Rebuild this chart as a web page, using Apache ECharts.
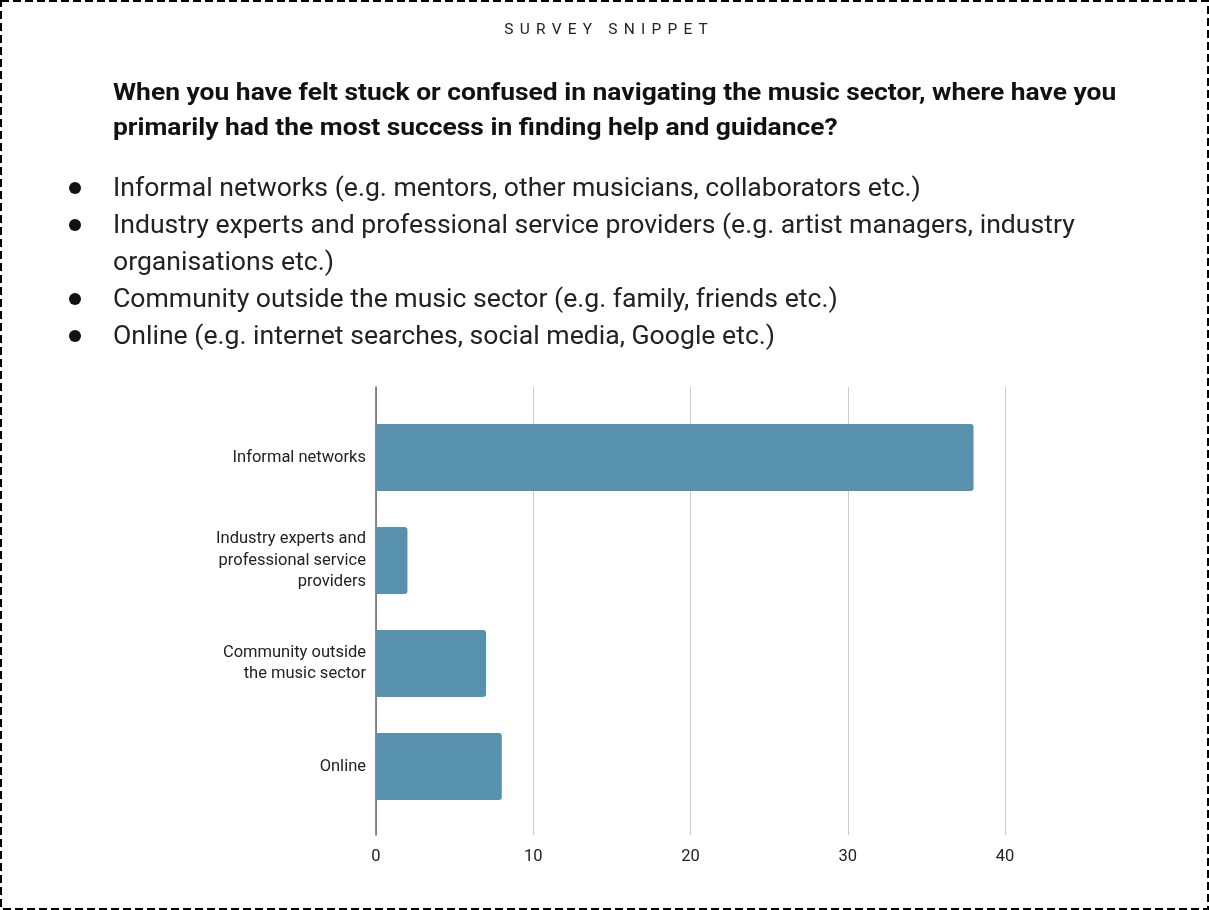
<!DOCTYPE html>
<html>
<head>
<meta charset="utf-8">
<title>Survey snippet</title>
<script src="https://cdn.jsdelivr.net/npm/echarts@6/dist/echarts.min.js"></script>
<style>
  html, body { margin: 0; padding: 0; background: #fff; }
  #chart { width: 1209px; height: 910px; }
</style>
</head>
<body>
<div id="chart"></div>
<script>
// Survey responses: where respondents found help and guidance
const categories = [
  'Informal networks',
  'Industry experts and professional service providers',
  'Community outside the music sector',
  'Online'
];
const categoryLabels = [
  'Informal networks',
  'Industry experts and\nprofessional service\nproviders',
  'Community outside\nthe music sector',
  'Online'
];
const responses = [38, 2, 7, 8];
const xTicks = [0, 10, 20, 30, 40];

const kicker = 'SURVEY SNIPPET';
const questionLines = [
  'When you have felt stuck or confused in navigating the music sector, where have you',
  'primarily had the most success in finding help and guidance?'
];
const optionLines = [
  { text: 'Informal networks (e.g. mentors, other musicians, collaborators etc.)', bullet: true },
  { text: 'Industry experts and professional service providers (e.g. artist managers, industry', bullet: true },
  { text: 'organisations etc.)', bullet: false },
  { text: 'Community outside the music sector (e.g. family, friends etc.)', bullet: true },
  { text: 'Online (e.g. internet searches, social media, Google etc.)', bullet: true }
];

const FONT = 'Roboto, "Noto Sans", sans-serif';
const chart = echarts.init(document.getElementById('chart'), null, { renderer: 'canvas' });

// letter-spaced kicker: place each glyph using measured widths
const measureCtx = document.createElement('canvas').getContext('2d');
measureCtx.font = '15.5px Roboto';
const tracking = 6.2;
const glyphs = kicker.split('');
const widths = glyphs.map(g => measureCtx.measureText(g).width);
const totalW = widths.reduce((a, b) => a + b, 0) + tracking * (glyphs.length - 1);
let cursor = 606 - totalW / 2;
const kickerEls = glyphs.map((g, i) => {
  const el = {
    type: 'text', x: cursor, y: 30,
    style: { text: g, font: '15.5px ' + FONT, fill: '#222', textVerticalAlign: 'middle' }
  };
  cursor += widths[i] + tracking;
  return el;
});

const graphics = [
  {
    type: 'rect',
    shape: { x: 1, y: 1, width: 1207, height: 908 },
    style: { fill: 'none', stroke: '#000', lineWidth: 2, lineDash: [8, 4] },
    silent: true
  },
  ...kickerEls,
  ...questionLines.map((t, i) => ({
    type: 'text', x: 113, y: 94 + i * 35, scaleX: 1.1,
    style: { text: t, font: 'bold 24px ' + FONT, fill: '#111', textVerticalAlign: 'middle' }
  })),
  ...optionLines.flatMap((o, i) => {
    const cy = 188 + i * 37;
    const els = [{
      type: 'text', x: 113, y: cy + 2, scaleX: 1.064,
      style: { text: o.text, font: '25px ' + FONT, fill: '#222', textVerticalAlign: 'middle' }
    }];
    if (o.bullet) {
      els.push({ type: 'circle', shape: { cx: 75, cy: cy, r: 6 }, style: { fill: '#111' } });
    }
    return els;
  })
];

chart.setOption({
  animation: false,
  backgroundColor: '#fff',
  graphic: graphics,
  grid: [
    // frame grid: vertical gridlines, baseline and value ticks
    { left: 376, right: 204, top: 387, bottom: 75 },
    // bar grid: category bands
    { left: 376, right: 204, top: 406, bottom: 92 }
  ],
  xAxis: [
    {
      gridIndex: 0, type: 'value', min: xTicks[0], max: xTicks[xTicks.length - 1], interval: 10,
      axisLine: { show: false }, axisTick: { show: false },
      axisLabel: { fontFamily: FONT, fontSize: 16.5, color: '#222', margin: 13 },
      splitLine: { show: true, lineStyle: { color: '#cccccc', width: 1 } }
    },
    {
      gridIndex: 1, type: 'value', min: xTicks[0], max: xTicks[xTicks.length - 1],
      show: false
    }
  ],
  yAxis: [
    {
      gridIndex: 0, type: 'value', min: 0, max: 1,
      axisLine: { show: true, lineStyle: { color: '#666', width: 1.5 } },
      axisTick: { show: false }, axisLabel: { show: false }, splitLine: { show: false }
    },
    {
      gridIndex: 1, type: 'category', inverse: true, data: categories,
      axisLine: { show: false }, axisTick: { show: false }, splitLine: { show: false },
      axisLabel: {
        formatter: (v, i) => categoryLabels[i],
        fontFamily: FONT, fontSize: 16.5, color: '#222', lineHeight: 21.5, margin: 10, align: 'right'
      }
    }
  ],
  series: [{
    type: 'bar',
    name: 'Responses',
    xAxisIndex: 1, yAxisIndex: 1,
    data: responses,
    barWidth: 67,
    itemStyle: { color: '#5891ad', borderRadius: [0, 3, 3, 0] }
  }]
});
</script>
</body>
</html>
